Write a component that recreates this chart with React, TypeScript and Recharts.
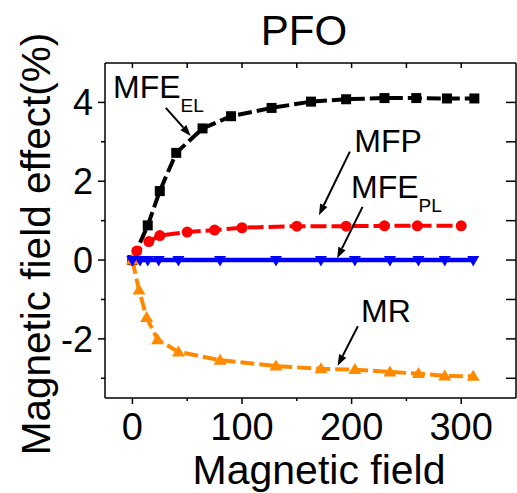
import React from 'react';
import { LineChart, Line, XAxis, YAxis, ReferenceLine, ReferenceDot, Customized } from 'recharts';

// ---- data ----
const elX = [0, 14, 25, 40, 64, 90, 127, 163, 195, 230, 259, 287, 312];
const elY = [0, 0.88, 1.75, 2.72, 3.34, 3.65, 3.86, 4.02, 4.08, 4.11, 4.11, 4.1, 4.1];

const mfpX = [0, 4, 15, 25, 50, 75, 100, 150, 195, 230, 260, 300];
const mfpY = [0, 0.23, 0.47, 0.62, 0.71, 0.76, 0.82, 0.86, 0.86, 0.87, 0.87, 0.87];

const plX = [0, 7, 14, 24, 42, 80, 131, 172, 203, 235, 261, 285, 311];
const plY = [0, 0, 0, 0, 0, 0, 0, 0, 0, 0, 0, 0, 0];

const mrX = [0, 6, 13, 23, 42, 80, 131, 172, 203, 235, 261, 285, 311];
const mrY = [0, -0.76, -1.46, -2.02, -2.33, -2.54, -2.69, -2.76, -2.78, -2.84, -2.88, -2.94, -2.95];

const xTicks = [0, 50, 100, 150, 200, 250, 300];
const xMajor = [0, 100, 200, 300];
const yTicks = [-3, -2, -1, 0, 1, 2, 3, 4];
const yMajor = [-2, 0, 2, 4];

const title = 'PFO';
const xTitle = 'Magnetic field';
const yTitle = 'Magnetic field effect(%)';

const annotations = [
  { main: 'MFE', sub: 'EL', at: { x: -17.7, y: 4.11 }, from: { x: 30.5, y: 3.86 }, to: { x: 53.2, y: 3.15 } },
  { main: 'MFP', sub: '', at: { x: 202.5, y: 2.74 }, from: { x: 198.4, y: 2.75 }, to: { x: 170.2, y: 1.14 } },
  { main: 'MFE', sub: 'PL', at: { x: 199.5, y: 1.57 }, from: { x: 210, y: 1.35 }, to: { x: 186.8, y: 0.045 } },
  { main: 'MR', sub: '', at: { x: 208.6, y: -1.57 }, from: { x: 205.7, y: -1.68 }, to: { x: 187.3, y: -2.68 } },
];

const toPts = (xs: number[], ys: number[]) => xs.map((x, i) => ({ x, y: ys[i] }));

const FONT = '"Liberation Sans", Arial, Helvetica, sans-serif';

const squareDot = (p: any) => {
  const { cx, cy, index } = p;
  if (cx == null || cy == null) return <g key={`s${index}`} />;
  return <rect key={`s${index}`} x={cx - 5} y={cy - 5} width={10} height={10} fill="#000" />;
};
const circleDot = (p: any) => {
  const { cx, cy, index } = p;
  if (cx == null || cy == null) return <g key={`c${index}`} />;
  return <circle key={`c${index}`} cx={cx} cy={cy} r={5.5} fill="#ff0000" />;
};
const downDot = (p: any) => {
  const { cx, cy, index } = p;
  if (cx == null || cy == null) return <g key={`d${index}`} />;
  return (
    <polygon key={`d${index}`} points={`${cx - 6},${cy - 4} ${cx + 6},${cy - 4} ${cx},${cy + 6.5}`} fill="#0000ff" />
  );
};
const upDot = (p: any) => {
  const { cx, cy, index } = p;
  if (cx == null || cy == null) return <g key={`u${index}`} />;
  return (
    <polygon key={`u${index}`} points={`${cx - 6.5},${cy + 4.5} ${cx + 6.5},${cy + 4.5} ${cx},${cy - 6.5}`} fill="#ff8a00" />
  );
};

const BottomTick = (p: any) => {
  const { x, y, payload } = p;
  const major = xMajor.includes(payload.value);
  return (
    <g>
      <line x1={x} x2={x} y1={y} y2={y + (major ? 6 : 3)} stroke="#000" strokeWidth={1.5} />
      {major && (
        <text x={x} y={y + 42} textAnchor="middle" fontSize={38} fontFamily={FONT} fill="#000">
          {payload.value}
        </text>
      )}
    </g>
  );
};
const TopTick = (p: any) => {
  const { x, y } = p;
  return <line x1={x} x2={x} y1={y} y2={y + 5} stroke="#000" strokeWidth={1.5} />;
};
const LeftTick = (p: any) => {
  const { x, y, payload } = p;
  const major = yMajor.includes(payload.value);
  return (
    <g>
      <line x1={x - (major ? 7 : 4)} x2={x} y1={y} y2={y} stroke="#000" strokeWidth={1.5} />
      {major && (
        <text x={x - 12} y={y + 13} textAnchor="end" fontSize={36} fontFamily={FONT} fill="#000">
          {payload.value}
        </text>
      )}
    </g>
  );
};
const RightTick = (p: any) => {
  const { x, y } = p;
  return <line x1={x - 10} x2={x} y1={y} y2={y} stroke="#000" strokeWidth={1.5} />;
};

const Arrow = (p: any) => {
  const { x1, y1, x2, y2 } = p;
  const ang = Math.atan2(y2 - y1, x2 - x1);
  const L = 11;
  const W = 4;
  const bx = x2 - L * Math.cos(ang);
  const by = y2 - L * Math.sin(ang);
  const px = -Math.sin(ang) * W;
  const py = Math.cos(ang) * W;
  return (
    <g>
      <line x1={x1} y1={y1} x2={bx} y2={by} stroke="#000" strokeWidth={2} />
      <polygon points={`${x2},${y2} ${bx + px},${by + py} ${bx - px},${by - py}`} fill="#000" />
    </g>
  );
};

const makeLabel = (main: string, sub: string) => (p: any) => {
  const { cx, cy } = p;
  return (
    <text x={cx} y={cy} fontSize={32} fontFamily={FONT} fill="#000">
      <tspan>{main}</tspan>
      {sub && (
        <tspan dy={14} fontSize={19}>
          {sub}
        </tspan>
      )}
    </text>
  );
};

const Titles = () => (
  <g fontFamily={FONT} fill="#000">
    <text x={304} y={45} textAnchor="middle" fontSize={42}>
      {title}
    </text>
    <text x={319} y={484} textAnchor="middle" fontSize={41}>
      {xTitle}
    </text>
    <text x={0} y={0} transform="translate(50,244) rotate(-90)" textAnchor="middle" fontSize={40.5}>
      {yTitle}
    </text>
  </g>
);

export default function App() {
  return (
    <div style={{ position: 'fixed', left: 0, top: 0, width: 517, height: 493, background: '#fff' }}>
      <LineChart width={517} height={493} margin={{ top: 62, right: 0, bottom: 35, left: 45 }}>
        <XAxis
          xAxisId={0}
          type="number"
          dataKey="x"
          domain={[-25, 350]}
          allowDataOverflow
          ticks={xTicks}
          interval={0}
          height={60}
          tickSize={0}
          tickMargin={0}
          tickLine={false}
          axisLine={{ stroke: '#000', strokeWidth: 1.5 }}
          tick={<BottomTick />}
        />
        <XAxis
          xAxisId="top"
          orientation="top"
          type="number"
          dataKey="x"
          domain={[-25, 350]}
          allowDataOverflow
          ticks={xTicks}
          interval={0}
          height={1}
          tickSize={0}
          tickMargin={0}
          tickLine={false}
          axisLine={{ stroke: '#000', strokeWidth: 1.5 }}
          tick={<TopTick />}
        />
        <YAxis
          yAxisId={0}
          type="number"
          domain={[-3.5, 5]}
          allowDataOverflow
          ticks={yTicks}
          interval={0}
          width={60}
          tickSize={0}
          tickMargin={0}
          tickLine={false}
          axisLine={{ stroke: '#000', strokeWidth: 1.5 }}
          tick={<LeftTick />}
        />
        <YAxis
          yAxisId="right"
          orientation="right"
          type="number"
          domain={[-3.5, 5]}
          allowDataOverflow
          ticks={yTicks}
          interval={0}
          width={1}
          tickSize={0}
          tickMargin={0}
          tickLine={false}
          axisLine={{ stroke: '#000', strokeWidth: 1.5 }}
          tick={<RightTick />}
        />
        {/* invisible series that ties the mirror axes to the data */}
        <Line
          xAxisId="top"
          yAxisId="right"
          data={toPts(mfpX, mfpY)}
          dataKey="y"
          stroke="none"
          dot={false}
          activeDot={false}
          legendType="none"
          isAnimationActive={false}
        />
        <Line
          data={toPts(elX, elY)}
          dataKey="y"
          type="linear"
          stroke="#000"
          strokeWidth={4}
          strokeDasharray="14 5"
          dot={squareDot}
          activeDot={false}
          isAnimationActive={false}
        />
        <Line
          data={toPts(mfpX, mfpY)}
          dataKey="y"
          type="linear"
          stroke="#ff0000"
          strokeWidth={4}
          strokeDasharray="16 5"
          dot={circleDot}
          activeDot={false}
          isAnimationActive={false}
        />
        <Line
          data={toPts(mrX, mrY)}
          dataKey="y"
          type="linear"
          stroke="#ff8a00"
          strokeWidth={4}
          strokeDasharray="14 5"
          dot={upDot}
          activeDot={false}
          isAnimationActive={false}
        />
        <Line
          data={toPts(plX, plY)}
          dataKey="y"
          type="linear"
          stroke="#0000ff"
          strokeWidth={4.5}
          dot={downDot}
          activeDot={false}
          isAnimationActive={false}
        />
        {annotations.map((a, i) => (
          <ReferenceLine key={`a${i}`} segment={[a.from, a.to]} shape={Arrow} ifOverflow="visible" />
        ))}
        {annotations.map((a, i) => (
          <ReferenceDot key={`l${i}`} x={a.at.x} y={a.at.y} r={0} shape={makeLabel(a.main, a.sub)} ifOverflow="visible" />
        ))}
        <Customized component={<Titles />} />
      </LineChart>
    </div>
  );
}
